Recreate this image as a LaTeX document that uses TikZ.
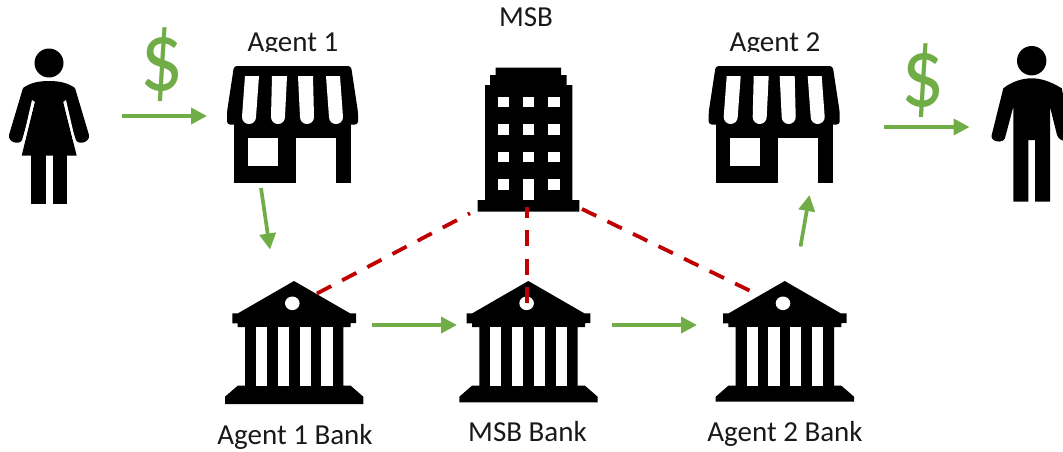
\documentclass[tikz,border=0pt]{standalone}
\usepackage{fontspec}
\setmainfont{Carlito}
\usetikzlibrary{arrows.meta}
\definecolor{flowgreen}{HTML}{70AD47}
\definecolor{linkred}{HTML}{C00000}
\tikzset{
  flow/.style={draw=flowgreen,line width=3.7pt,-{Triangle[length=16pt,width=16pt]}},
  link/.style={draw=linkred,line width=3.8pt,dash pattern=on 16pt off 12.4pt},
  icon/.style={fill=black,draw=none},
  hole/.style={fill=white,draw=none},
  caption/.style={anchor=base,inner sep=0pt,font=\fontsize{29}{31}\selectfont,text=black!90},
  money/.style={inner sep=0pt,text=flowgreen,font=\fontsize{85}{90}\selectfont}
}
\newcommand{\storeicon}[1]{%
\begin{scope}[shift={(#1,0)}]
  \path[icon,rounded corners=3pt] (234,66) -- (351,66) -- (358,112) -- (358,124.5) -- (227,124.5) -- (227,112) -- cycle;
  \path[icon] (234,120) rectangle (296,183);
  \path[icon] (296,120) rectangle (351,138);
  \path[icon] (336,120) rectangle (351,183);
  \path[hole] (248,138) rectangle (278,166);
  \path[hole] (245,76) -- (259,76) -- (256,117) arc (0:180:7) -- cycle;
  \path[hole] (272,76) -- (287,76) -- (285,117) arc (0:180:7) -- cycle;
  \path[hole] (298,76) -- (313,76) -- (314,117) arc (0:180:7) -- cycle;
  \path[hole] (326,76) -- (340,76) -- (343,117) arc (0:180:7) -- cycle;
\end{scope}}
\newcommand{\bankicon}[2]{%
\begin{scope}[shift={(#1,0)}]
  \path[icon] (294,281) -- (350,313.3) -- (356,313.3) -- (356,323) -- (350.7,323) -- (350.7,327)
     -- (343.3,327) -- (343.3,385.7) -- (350.7,385.7) -- (363.3,396.7) -- (363.3,#2) -- (225,#2)
     -- (225,396.7) -- (237.7,385.7) -- (245,385.7) -- (245,327) -- (237.7,327) -- (237.7,323.3)
     -- (232.3,323.3) -- (232.3,313.3) -- (238,313.3) -- cycle;
  \path[hole] (292.3,303.3) ellipse [x radius=7.3,y radius=6.8];
  \path[hole] (256,327) rectangle (267,385.7);
  \path[hole] (277.7,327) rectangle (289,385.7);
  \path[hole] (299.7,327) rectangle (310.7,385.7);
  \path[hole] (321.3,327) rectangle (332.7,385.7);
\end{scope}}
\begin{document}
\begin{tikzpicture}[x=1pt,y=-1pt]
\useasboundingbox (0,0) rectangle (1063,451);
\clip (0,0) rectangle (1063,451);
% captions
\node[caption] (lblMsb) at (526,26.7) {MSB};
\node[caption] (lblA1) at (293,51) {Agent 1};
\node[caption] (lblA2) at (775,51) {Agent 2};
\node[caption] (lblB1) at (295,444) {Agent 1 Bank};
\node[caption] (lblB2) at (527.5,441) {MSB Bank};
\node[caption] (lblB3) at (785,441.5) {Agent 2 Bank};
\path[hole] (225,52.3) rectangle (360,66);
\path[hole] (707,52.3) rectangle (842,66);
% money
\node[money] (cash1) at (162,65) {\scalebox{1}[1.17]{\$}};
\node[money] (cash2) at (923,80.5) {\scalebox{1}[1.17]{\$}};
% woman
\path[icon] (49,63) circle [radius=14.5];
\path[icon] (49,81) .. controls (60,81) and (68,83) .. (75,88) -- (63.3,102) -- (76.7,155.7) -- (21.7,155.7) -- (34.7,102) -- (23,88) .. controls (30,83) and (38,81) .. (49,81) -- cycle;
\path[icon] (75,88) -- (89,135) .. controls (90,143) and (78,145) .. (76,140) -- (62,100) -- cycle;
\path[icon] (23,88) -- (9,135) .. controls (8,143) and (20,145) .. (22,140) -- (34,100) -- cycle;
\path[icon] (31,155) rectangle (45.7,204.3);
\path[icon] (52.7,155) rectangle (67.3,204.3);
\path[hole] (63.3,102) -- (66,100) -- (75,139) -- (73.5,142) -- cycle;
\path[hole] (34.7,102) -- (32,100) -- (23,139) -- (24.5,142) -- cycle;
% man
\path[icon] (1031.7,60.7) circle [radius=14.7];
\path[icon] (1031.7,78.3) .. controls (1020,78.3) and (1010,83) .. (1003.3,88.3) -- (991.7,135)
  .. controls (990,142) and (1003,144) .. (1005,138) -- (1013.3,106.7) -- (1013.3,201.7) -- (1028.3,201.7) -- (1028.3,140) -- (1035,140) -- (1035,201.7) -- (1050,201.7) -- (1050,106.7) -- (1057,135) .. controls (1059,142) and (1072,144) .. (1072,135) -- (1061.7,88.3) .. controls (1053,83) and (1043,78.3) .. (1031.7,78.3) -- cycle;
% stores
\storeicon{0}
\storeicon{481.7}
% MSB building
\path[icon] (495.7,67.7) -- (561,67.7) -- (561,75) -- (566.7,75) -- (566.7,85) -- (572.3,85) -- (572.3,200) -- (579.3,200) -- (579.3,211.7) -- (477.7,211.7) -- (477.7,200) -- (485,200) -- (485,85) -- (490,85) -- (490,75) -- (495.7,75) -- cycle;
\foreach \wy in {97,124.3,152,179.3}{
  \path[hole] (497.7,\wy) rectangle ++(11,10.3);
  \path[hole] (548.3,\wy) rectangle ++(11.3,10.3);
}
\foreach \wy in {97,124.3,152}{
  \path[hole] (523,\wy) rectangle ++(11,10.3);
}
\path[hole] (523,179.3) rectangle (534,200);
% banks
\bankicon{0}{404}
\bankicon{234.3}{402.3}
\bankicon{490.7}{401.7}
% ports
\coordinate (womanOut) at (122,116);
\coordinate (agentOneIn) at (207,116);
\coordinate (agentOneOut) at (261,188);
\coordinate (bankOneIn) at (270,249.5);
\coordinate (bankOneOut) at (372,325);
\coordinate (msbBankIn) at (457,325);
\coordinate (msbBankOut) at (612,325);
\coordinate (bankTwoIn) at (697,325);
\coordinate (bankTwoOut) at (800.5,246.5);
\coordinate (agentTwoIn) at (809.5,195);
\coordinate (agentTwoOut) at (884,127);
\coordinate (manIn) at (969.5,127);
\coordinate (msbLeft) at (470,213.3);
\coordinate (msbMid) at (527,207);
\coordinate (msbRight) at (582,209);
\coordinate (bankOneTop) at (317,293.5);
\coordinate (msbBankTop) at (527,303);
\coordinate (bankTwoTop) at (749.5,290.5);
% connectors
\draw[flow] (womanOut) -- (agentOneIn);
\draw[flow] (agentOneOut) -- (bankOneIn);
\draw[flow] (bankOneOut) -- (msbBankIn);
\draw[flow] (msbBankOut) -- (bankTwoIn);
\draw[flow] (bankTwoOut) -- (agentTwoIn);
\draw[flow] (agentTwoOut) -- (manIn);
\draw[link] (bankOneTop) -- (msbLeft);
\draw[link] (msbBankTop) -- (msbMid);
\draw[link] (bankTwoTop) -- (msbRight);
\end{tikzpicture}
\end{document}
